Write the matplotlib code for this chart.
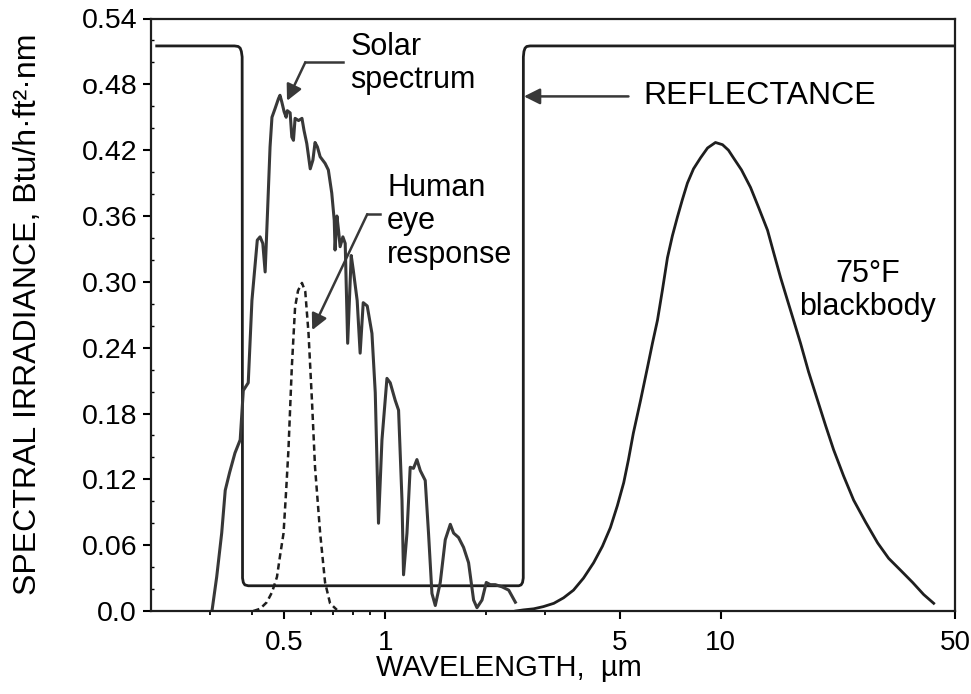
import matplotlib.pyplot as plt
from matplotlib.ticker import FixedLocator, FixedFormatter, MultipleLocator, NullFormatter

plt.rcParams['font.family'] = ['Liberation Sans', 'DejaVu Sans']

# solar spectrum (um, Btu/h.ft2.nm)
solar_wl = [0.304, 0.314, 0.325, 0.333, 0.343, 0.356, 0.369, 0.377, 0.390, 0.400,
            0.415, 0.423, 0.431, 0.438, 0.445, 0.453, 0.459, 0.469, 0.480, 0.485,
            0.491, 0.499, 0.506, 0.510, 0.520, 0.526, 0.532, 0.538, 0.551, 0.564,
            0.572, 0.583, 0.597, 0.608, 0.617, 0.627, 0.639, 0.661, 0.676, 0.692,
            0.704, 0.708, 0.717, 0.725, 0.733, 0.747, 0.759, 0.772, 0.791, 0.802,
            0.824, 0.841, 0.859, 0.883, 0.912, 0.933, 0.954, 0.977, 1.011, 1.034,
            1.070, 1.095, 1.121, 1.133, 1.160, 1.186, 1.213, 1.242, 1.271, 1.315,
            1.345, 1.377, 1.409, 1.458, 1.509, 1.562, 1.598, 1.653, 1.711, 1.771,
            1.833, 1.876, 1.942, 2.000, 2.056, 2.128, 2.229, 2.333, 2.442]
solar_irr = [0.000, 0.031, 0.071, 0.110, 0.126, 0.144, 0.156, 0.201, 0.208, 0.283,
             0.338, 0.341, 0.335, 0.309, 0.362, 0.423, 0.450, 0.458, 0.467, 0.470,
             0.464, 0.455, 0.450, 0.456, 0.454, 0.432, 0.429, 0.449, 0.447, 0.449,
             0.438, 0.426, 0.403, 0.411, 0.427, 0.423, 0.414, 0.408, 0.402, 0.381,
             0.356, 0.329, 0.360, 0.347, 0.332, 0.341, 0.335, 0.244, 0.324, 0.311,
             0.283, 0.235, 0.281, 0.278, 0.253, 0.199, 0.080, 0.156, 0.212, 0.208,
             0.192, 0.183, 0.101, 0.033, 0.071, 0.131, 0.130, 0.138, 0.128, 0.119,
             0.071, 0.016, 0.005, 0.026, 0.065, 0.079, 0.071, 0.067, 0.058, 0.044,
             0.010, 0.003, 0.010, 0.026, 0.024, 0.024, 0.022, 0.019, 0.008]

# relative response of the eye
eye_wl = [0.404, 0.423, 0.443, 0.459, 0.475, 0.485, 0.497, 0.506, 0.514, 0.526,
          0.538, 0.549, 0.564, 0.577, 0.590, 0.604, 0.617, 0.639, 0.661, 0.684, 0.717]
eye_resp = [0.000, 0.002, 0.008, 0.017, 0.031, 0.050, 0.071, 0.110, 0.147, 0.222,
            0.277, 0.292, 0.299, 0.291, 0.253, 0.192, 0.131, 0.071, 0.026, 0.007, 0.001]

# 75 F blackbody emission
bb_wl = [2.45, 2.58, 2.77, 2.96, 3.18, 3.40, 3.64, 3.90, 4.18, 4.44, 4.69, 4.92,
         5.14, 5.31, 5.49, 5.77, 6.05, 6.26, 6.48, 6.70, 6.94, 7.18, 7.43, 7.69,
         7.96, 8.30, 8.71, 9.14, 9.65, 10.13, 10.55, 10.92, 11.54, 12.28, 12.97,
         13.80, 14.38, 15.09, 15.83, 16.50, 17.31, 18.29, 19.46, 20.56, 21.72,
         23.27, 24.93, 27.06, 29.40, 31.70, 34.44, 37.38, 40.32, 43.20]
bb_irr = [0.000, 0.001, 0.002, 0.004, 0.007, 0.012, 0.019, 0.030, 0.044, 0.059,
          0.076, 0.096, 0.117, 0.138, 0.162, 0.192, 0.222, 0.244, 0.265, 0.292,
          0.322, 0.342, 0.359, 0.375, 0.390, 0.403, 0.413, 0.422, 0.427, 0.425,
          0.420, 0.413, 0.402, 0.386, 0.368, 0.347, 0.327, 0.304, 0.283, 0.265,
          0.244, 0.218, 0.192, 0.169, 0.147, 0.123, 0.101, 0.081, 0.062, 0.048,
          0.037, 0.026, 0.015, 0.007]

# selective surface reflectance (plotted on same axis)
refl_wl = [0.208, 0.355, 0.364, 0.369, 0.372, 0.374, 0.375, 0.377, 0.381, 0.390,
           2.50, 2.54, 2.565, 2.578, 2.58, 2.59, 2.61, 2.64, 2.70, 50.0]
refl_val = [0.515, 0.515, 0.5145, 0.513, 0.510, 0.505, 0.030, 0.026, 0.0238, 0.023,
            0.023, 0.0238, 0.026, 0.030, 0.505, 0.510, 0.513, 0.5145, 0.515, 0.515]

x_ticks = [0.5, 1, 5, 10, 50]
x_tick_labels = ['0.5', '1', '5', '10', '50']
x_minor = [0.3, 0.4, 0.6, 0.7, 0.8, 0.9, 2, 3]
y_ticks = [0.0, 0.06, 0.12, 0.18, 0.24, 0.30, 0.36, 0.42, 0.48, 0.54]
y_tick_labels = ['0.0', '0.06', '0.12', '0.18', '0.24', '0.30', '0.36', '0.42', 'o.48', '0.54']

ink = '#1e1e1e'
grey = '#383838'
fig = plt.figure(figsize=(9.71, 6.94), dpi=100)
ax = fig.add_axes([151 / 971, 1 - 611 / 694, 804 / 971, 592.5 / 694])
ax.set_xscale('log')
ax.set_xlim(0.2, 50)
ax.set_ylim(0, 0.54)

ax.plot(refl_wl, refl_val, color=ink, lw=2.0, solid_joinstyle='round')
ax.plot(solar_wl, solar_irr, color=grey, lw=2.2, solid_joinstyle='round')
ax.plot(eye_wl, eye_resp, color=ink, lw=1.8, linestyle=(0, (2.5, 1.6)))
ax.plot(bb_wl, bb_irr, color=ink, lw=2.0)

ax.xaxis.set_major_locator(FixedLocator(x_ticks))
ax.xaxis.set_major_formatter(FixedFormatter(x_tick_labels))
ax.xaxis.set_minor_locator(FixedLocator(x_minor))
ax.xaxis.set_minor_formatter(NullFormatter())
ax.yaxis.set_major_locator(FixedLocator(y_ticks))
ax.yaxis.set_major_formatter(FixedFormatter(y_tick_labels))
ax.yaxis.set_minor_locator(MultipleLocator(0.02))

ax.tick_params(which='major', axis='x', direction='out', length=6, width=1.5,
               labelsize=20, pad=8)
ax.tick_params(which='minor', axis='x', direction='out', length=3, width=1.3)
ax.tick_params(which='major', axis='y', direction='out', length=6, width=1.5,
               labelsize=20.5, pad=4)
ax.tick_params(which='minor', axis='y', direction='in', length=2, width=1.0)
for s in ax.spines.values():
    s.set_linewidth(1.6)
    s.set_color(ink)

fig.text(28 / 971, 1 - 314 / 694, 'SPECTRAL IRRADIANCE, Btu/h\u00b7ft\u00b2\u00b7nm',
         rotation=90, ha='center', va='center', fontsize=23)
fig.text(509 / 971, 1 - 668 / 694, 'WAVELENGTH,  \u00b5m', ha='center', va='center',
         fontsize=21)

arrow = dict(arrowstyle='-|>', color=grey, lw=1.8, mutation_scale=24,
             shrinkA=0, shrinkB=0)

# solar spectrum callout
ax.plot([0.577, 0.748], [0.500, 0.500], color=grey, lw=1.8)
ax.annotate('', xy=(0.509, 0.465), xytext=(0.577, 0.500), arrowprops=arrow)
ax.text(0.786, 0.499, 'Solar\nspectrum', fontsize=22, ha='left', va='center',
        linespacing=1.1)

# eye response callout
ax.plot([0.883, 0.965], [0.3616, 0.3616], color=grey, lw=1.8)
ax.annotate('', xy=(0.605, 0.256), xytext=(0.883, 0.3616), arrowprops=arrow)
ax.text(1.013, 0.355, 'Human\neye\nresponse', fontsize=22, ha='left', va='center',
        linespacing=1.15)

# reflectance callout
ax.annotate('', xy=(2.59, 0.469), xytext=(5.31, 0.469), arrowprops=arrow)
ax.text(5.89, 0.469, 'REFLECTANCE', fontsize=23, ha='left', va='center')

ax.text(27.4, 0.292, '75\u00b0F\nblackbody', fontsize=22, ha='center', va='center',
        linespacing=1.1)

fig.savefig('out.png', dpi=100)
